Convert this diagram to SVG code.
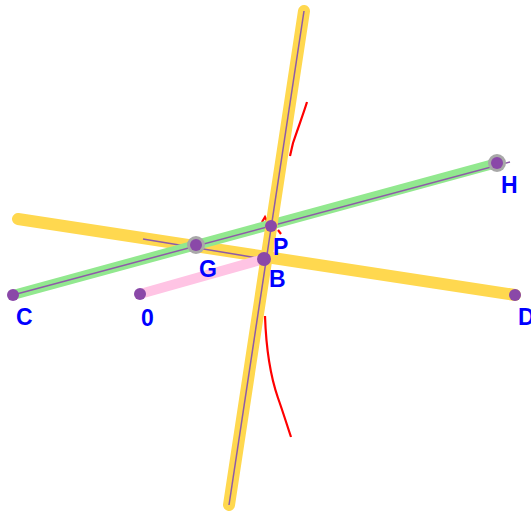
<svg xmlns="http://www.w3.org/2000/svg" width="531" height="512" viewBox="0 0 531 512">
<style>
.yl{stroke:#ffd84f;stroke-width:12;stroke-linecap:round;fill:none}
.gr{stroke:#92e88f;stroke-width:10;fill:none}
.pk{stroke:#ffc4e4;stroke-width:10;fill:none}
.th{stroke:#8e5aa8;stroke-width:1.5;fill:none}
.rd{stroke:#ff0000;stroke-width:2.2;fill:none}
.pt{fill:#8a48a8}
.halo{fill:#a8a8a8}
.lb{font-family:"Liberation Sans",Arial,sans-serif;font-weight:bold;font-size:23px;fill:#0000ff}
</style>
<rect width="531" height="512" fill="#ffffff"/>
<g id="connectors">
<path class="rd" d="M307,102 C304,112 298,128 293,143 L290,156"/>
<path class="rd" d="M262,222 L265,217 L267,221"/>
<path class="rd" d="M278,230 L281,234"/>
<path class="rd" d="M265,316 C266,345 270,375 278,398 C283,412 287,425 291,437"/>
<line class="yl" x1="18" y1="219" x2="515" y2="295"/>
<line class="th" x1="143" y1="239" x2="264" y2="259"/>
<line class="pk" x1="140" y1="294" x2="264" y2="259"/>
<line class="gr" x1="13" y1="295" x2="497" y2="163"/>
<line class="th" x1="13" y1="295" x2="510" y2="162"/>
<line class="yl" x1="304" y1="11" x2="229" y2="505"/>
<line class="th" x1="304" y1="11" x2="229" y2="505"/>
</g>
<g id="G"><circle class="halo" cx="196" cy="245" r="9"/><circle class="pt" cx="196" cy="245" r="6"/><text class="lb" x="199" y="277">G</text></g>
<g id="H"><circle class="halo" cx="497" cy="163" r="9"/><circle class="pt" cx="497" cy="163" r="6"/><text class="lb" x="501" y="193">H</text></g>
<g id="P"><circle class="pt" cx="271" cy="226" r="6"/><text class="lb" x="273" y="255">P</text></g>
<g id="B"><circle class="pt" cx="264" cy="259" r="7"/><text class="lb" x="269" y="287">B</text></g>
<g id="C"><circle class="pt" cx="13" cy="295" r="6"/><text class="lb" x="16" y="325">C</text></g>
<g id="D"><circle class="pt" cx="515" cy="295" r="6"/><text class="lb" x="518" y="325">D</text></g>
<g id="O"><circle class="pt" cx="140" cy="294" r="6"/><text class="lb" x="141" y="326">0</text></g>
</svg>
